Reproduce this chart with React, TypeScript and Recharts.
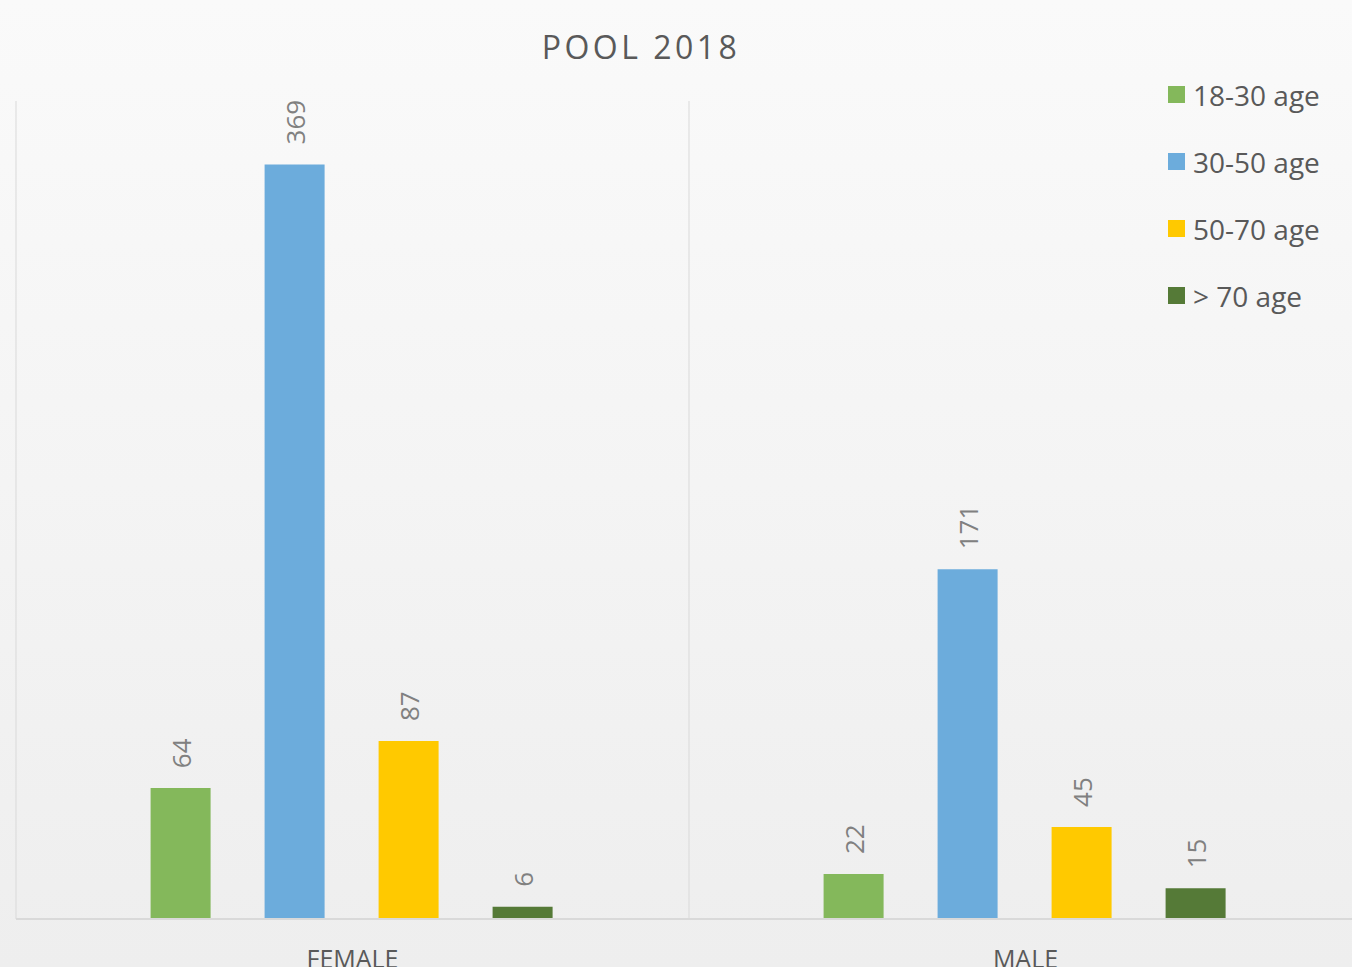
import React from 'react';
import { BarChart, Bar, XAxis, YAxis, CartesianGrid, LabelList } from 'recharts';

const categories = ['FEMALE', 'MALE'];
const age18to30 = [64, 22];
const age30to50 = [369, 171];
const age50to70 = [87, 45];
const over70 = [6, 15];
const seriesNames = ['18-30 age', '30-50 age', '50-70 age', '> 70 age'];
const seriesKeys = ['a18', 'a30', 'a50', 'a70'];
const seriesColors = ['#84B85B', '#6CACDC', '#FFC900', '#557A37'];

const FONT = '"Open Sans", sans-serif';

const data = categories.map((category, i) => ({
  category,
  a18: age18to30[i],
  a30: age30to50[i],
  a50: age50to70[i],
  a70: over70[i],
}));

// category separators: one line at each band edge
const separatorLines = ({ offset }: any) =>
  Array.from({ length: categories.length + 1 }, (_, i) => offset.left + (offset.width * i) / categories.length);

const BarLabel = (props: any) => {
  const { x, y, width, value } = props;
  const cx = Number(x) + Number(width) / 2;
  const cy = Number(y) - 20;
  return (
    <text
      x={cx}
      y={cy}
      transform={`rotate(-90 ${cx} ${cy})`}
      textAnchor="start"
      dominantBaseline="central"
      fill="#808080"
      fontSize={26}
      fontFamily={FONT}
    >
      {value}
    </text>
  );
};

const ChartLegend = () => (
  <div style={{ position: 'absolute', left: 1168, top: 61, fontFamily: FONT }}>
    {seriesNames.map((name, i) => (
      <div key={name} style={{ height: 67, display: 'flex', alignItems: 'center' }}>
        <span style={{ width: 17, height: 17, background: seriesColors[i], display: 'inline-block', marginRight: 8 }} />
        <span style={{ fontSize: 28, color: '#595959', whiteSpace: 'nowrap' }}>{name}</span>
      </div>
    ))}
  </div>
);

export default function App() {
  return (
    <div
      style={{
        position: 'absolute',
        left: 0,
        top: 0,
        width: 1352,
        height: 967,
        overflow: 'hidden',
        background: 'linear-gradient(#fafafa, #eeeeee)',
      }}
    >
      <div
        style={{
          position: 'absolute',
          left: 641,
          top: 25,
          transform: 'translateX(-50%)',
          fontFamily: FONT,
          fontSize: 32,
          letterSpacing: 3.5,
          color: '#595959',
          whiteSpace: 'nowrap',
        }}
      >
        POOL 2018
      </div>
      <BarChart
        width={1370}
        height={967}
        data={data}
        margin={{ top: 101, right: 8, left: 16, bottom: 0 }}
        barCategoryGap="20%"
        barGap={54}
      >
        <CartesianGrid
          vertical
          horizontal={false}
          stroke="#d9d9d9"
          verticalCoordinatesGenerator={separatorLines}
        />
        <XAxis
          dataKey="category"
          height={48}
          tickLine={false}
          axisLine={{ stroke: '#d9d9d9', strokeWidth: 2 }}
          tick={{ fill: '#595959', fontSize: 25, fontFamily: FONT }}
          tickMargin={25}
        />
        <YAxis domain={[0, 400]} hide />
        {seriesKeys.map((key, i) => (
          <Bar key={key} dataKey={key} name={seriesNames[i]} fill={seriesColors[i]} isAnimationActive={false}>
            <LabelList dataKey={key} content={<BarLabel />} />
          </Bar>
        ))}
      </BarChart>
      <ChartLegend />
    </div>
  );
}
